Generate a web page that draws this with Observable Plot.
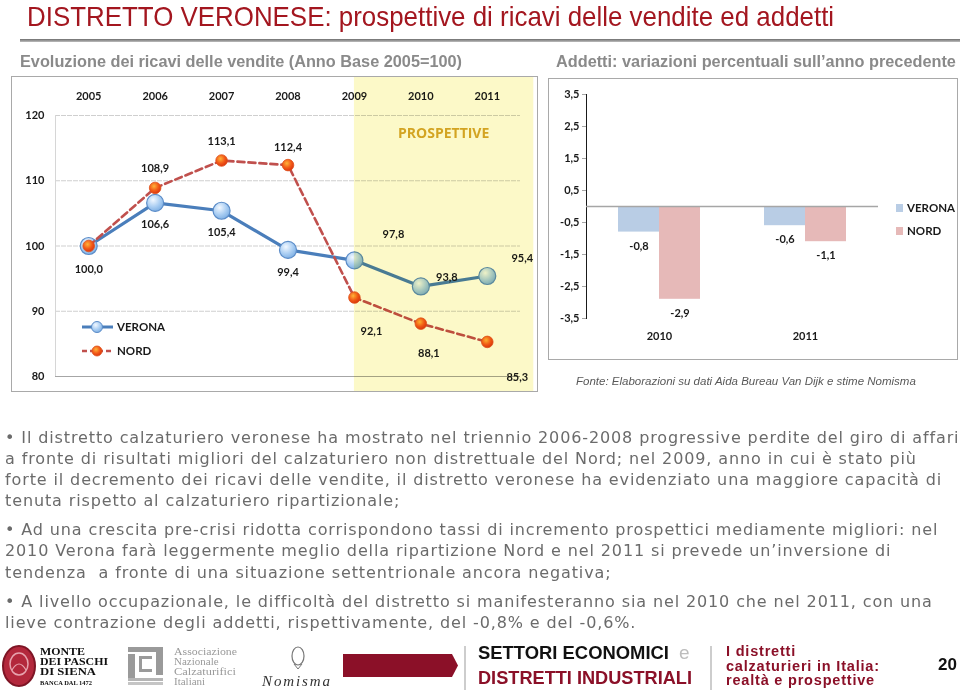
<!DOCTYPE html>
<html lang="it">
<head>
<meta charset="utf-8">
<script src="https://cdn.jsdelivr.net/npm/d3@7"></script>
<script src="https://cdn.jsdelivr.net/npm/@observablehq/plot@0.6"></script>
<style>
html,body{margin:0;padding:0;background:#fff}
#page{position:relative;width:960px;height:691px;overflow:hidden;font-family:"Liberation Sans",Arial,sans-serif}
.a{position:absolute;white-space:nowrap;line-height:1}
.mid{transform:translateY(-50%)}
#title{left:27px;top:17px;font-size:28px;color:#a3161f;transform:translateY(-50%) scaleX(0.925);transform-origin:0 50%}
#rule{position:absolute;left:20px;top:39px;width:940px;height:3px;background:linear-gradient(#6e6e6e,#bdbdbd)}
.sub{top:61px;font-size:16.3px;font-weight:bold;color:#8a8a8a}
.panel{position:absolute;border:1.5px solid #a9a9a9;box-sizing:border-box;pointer-events:none}
.bl{left:5px;font-family:"DejaVu Sans",Verdana,sans-serif;font-size:16px;letter-spacing:0.88px;color:#6b6b6b}
#src{left:576px;top:382px;font-size:11.5px;font-style:italic;color:#595959}
#prosp{left:398px;top:133px;font-family:"Open Sans",Lato,sans-serif;font-weight:bold;font-size:14px;color:#d3a422}
svg.leg text{font-family:Lato,"Open Sans",sans-serif;font-weight:bold;font-size:11.5px;fill:#1a1a1a}
</style>
</head>
<body>
<div id="page">
  <svg width="0" height="0" style="position:absolute">
    <defs>
      <radialGradient id="gBlue" cx="38%" cy="32%" r="70%">
        <stop offset="0" stop-color="#f2f8ff"/>
        <stop offset="0.6" stop-color="#a9cdf2"/>
        <stop offset="1" stop-color="#7fb0e4"/>
      </radialGradient>
      <radialGradient id="gRed" cx="40%" cy="35%" r="70%">
        <stop offset="0" stop-color="#ffb33a"/>
        <stop offset="0.55" stop-color="#f25a18"/>
        <stop offset="1" stop-color="#d8300e"/>
      </radialGradient>
    </defs>
  </svg>

  <div id="title" class="a">DISTRETTO VERONESE: prospettive di ricavi delle vendite ed addetti</div>
  <div id="rule"></div>
  <div class="a mid sub" style="left:20px">Evoluzione dei ricavi delle vendite (Anno Base 2005=100)</div>
  <div class="a mid sub" style="left:556px">Addetti: variazioni percentuali sull’anno precedente</div>

  <div id="leftChart" style="position:absolute;left:11px;top:76px"></div>
  <div class="panel" style="left:11px;top:76px;width:527px;height:316px"></div>
  <div id="prosp" class="a mid">PROSPETTIVE</div>
  <svg class="leg" style="position:absolute;left:78px;top:316px" width="100" height="46">
    <line x1="4" x2="35" y1="11" y2="11" stroke="#4a7ebb" stroke-width="3"/>
    <circle cx="19" cy="11" r="5.5" fill="url(#gBlue)" stroke="#5b8cc8" stroke-width="1"/>
    <text x="39" y="11" dy="0.35em">VERONA</text>
    <line x1="4" x2="35" y1="35" y2="35" stroke="#c0504d" stroke-width="2.4" stroke-dasharray="5,3"/>
    <circle cx="19" cy="35" r="5" fill="url(#gRed)" stroke="#e0501a" stroke-width="0.8"/>
    <text x="39" y="35" dy="0.35em">NORD</text>
  </svg>

  <div id="rightChart" style="position:absolute;left:548px;top:78px"></div>
  <div class="panel" style="left:548px;top:78px;width:410px;height:282px"></div>
  <svg class="leg" style="position:absolute;left:893px;top:198px" width="64" height="46">
    <rect x="3" y="6" width="7" height="8" fill="#b9cde5"/>
    <text x="14" y="10" dy="0.35em">VERONA</text>
    <rect x="3" y="29" width="7" height="8" fill="#e6b9b8"/>
    <text x="14" y="33" dy="0.35em">NORD</text>
  </svg>

  <div id="src" class="a mid">Fonte: Elaborazioni su dati Aida Bureau Van Dijk e stime Nomisma</div>

  <div class="a mid bl" style="top:438px">• Il distretto calzaturiero veronese ha mostrato nel triennio 2006-2008 progressive perdite del giro di affari</div>
  <div class="a mid bl" style="top:459px">a fronte di risultati migliori del calzaturiero non distrettuale del Nord; nel 2009, anno in cui è stato più</div>
  <div class="a mid bl" style="top:480px">forte il decremento dei ricavi delle vendite, il distretto veronese ha evidenziato una maggiore capacità di</div>
  <div class="a mid bl" style="top:501px">tenuta rispetto al calzaturiero ripartizionale;</div>
  <div class="a mid bl" style="top:530px">• Ad una crescita pre-crisi ridotta corrispondono tassi di incremento prospettici mediamente migliori: nel</div>
  <div class="a mid bl" style="top:551px">2010 Verona farà leggermente meglio della ripartizione Nord e nel 2011 si prevede un’inversione di</div>
  <div class="a mid bl" style="top:573px">tendenza&nbsp; a fronte di una situazione settentrionale ancora negativa;</div>
  <div class="a mid bl" style="top:602px">• A livello occupazionale, le difficoltà del distretto si manifesteranno sia nel 2010 che nel 2011, con una</div>
  <div class="a mid bl" style="top:623px">lieve contrazione degli addetti, rispettivamente, del -0,8% e del -0,6%.</div>

  <svg style="position:absolute;left:0;top:640px" width="960" height="51">
    <ellipse cx="19" cy="26" rx="16" ry="20" fill="#b3283c" stroke="#7e1525" stroke-width="2"/>
    <ellipse cx="19" cy="24" rx="9" ry="11" fill="none" stroke="#e7a3ae" stroke-width="1.5"/>
    <path d="M12 30 Q19 18 26 30" fill="none" stroke="#e7a3ae" stroke-width="1.2"/>
    <g font-family="'Liberation Serif','DejaVu Serif',serif" font-weight="bold" fill="#111">
      <text x="40" y="15" font-size="11" textLength="45" lengthAdjust="spacingAndGlyphs">MONTE</text>
      <text x="40" y="25" font-size="11" textLength="68" lengthAdjust="spacingAndGlyphs">DEI PASCHI</text>
      <text x="40" y="35" font-size="11" textLength="56" lengthAdjust="spacingAndGlyphs">DI SIENA</text>
      <text x="40" y="45" font-size="6" textLength="52" lengthAdjust="spacingAndGlyphs">BANCA DAL 1472</text>
    </g>
    <g fill="#9a9a9a">
      <rect x="128" y="7" width="35" height="5"/>
      <rect x="156" y="7" width="7" height="28"/>
      <rect x="128" y="14" width="7" height="24"/>
      <rect x="139" y="16" width="13" height="3"/>
      <rect x="139" y="16" width="3" height="16"/>
      <rect x="139" y="29" width="13" height="3"/>
      <rect x="128" y="38" width="35" height="3" fill="#b5b5b5"/>
      <rect x="128" y="42" width="35" height="3" fill="#c5c5c5"/>
    </g>
    <g font-family="'Liberation Serif','DejaVu Serif',serif" font-size="11" fill="#9a9a9a">
      <text x="174" y="15" textLength="63" lengthAdjust="spacingAndGlyphs">Associazione</text>
      <text x="174" y="25">Nazionale</text>
      <text x="174" y="35" textLength="62" lengthAdjust="spacingAndGlyphs">Calzaturifici</text>
      <text x="174" y="45">Italiani</text>
    </g>
    <ellipse cx="298" cy="16" rx="6" ry="9" fill="none" stroke="#777" stroke-width="1.2"/>
    <path d="M294 24 L298 29 L302 24" fill="none" stroke="#777"/>
    <text x="262" y="46" font-family="'Liberation Serif','DejaVu Serif',serif" font-style="italic" font-size="15" fill="#333" textLength="68">Nomisma</text>
    <polygon points="343,14 452,14 458,25.5 452,37 343,37" fill="#8b1028"/>
    <line x1="465" x2="465" y1="6" y2="50" stroke="#bdbdbd" stroke-width="1.5"/>
    <g font-family="'Liberation Sans',Arial,sans-serif" font-weight="bold" font-size="19">
      <text x="478" y="19" fill="#111" textLength="191" lengthAdjust="spacingAndGlyphs">SETTORI ECONOMICI</text>
      <text x="679" y="19" fill="#bdbdbd" font-weight="normal">e</text>
      <text x="478" y="44" fill="#8b1028" textLength="214" lengthAdjust="spacingAndGlyphs">DISTRETTI INDUSTRIALI</text>
    </g>
    <line x1="711" x2="711" y1="6" y2="50" stroke="#bdbdbd" stroke-width="1.5"/>
    <g font-family="'Liberation Sans',Arial,sans-serif" font-weight="bold" font-size="14.5" fill="#8b1028" letter-spacing="0.8">
      <text x="726" y="16">I distretti</text>
      <text x="726" y="30.5">calzaturieri in Italia:</text>
      <text x="726" y="45">realtà e prospettive</text>
    </g>
    <text x="938" y="30" font-family="'Liberation Sans',Arial,sans-serif" font-weight="bold" font-size="17" fill="#111">20</text>
  </svg>
</div>

<script>
// ---------- data ----------
const years = [2005, 2006, 2007, 2008, 2009, 2010, 2011];
const veronaIndex = [100.0, 106.6, 105.4, 99.4, 97.8, 93.8, 95.4];
const nordIndex = [100.0, 108.9, 113.1, 112.4, 92.1, 88.1, 85.3];
const indexTicks = [80, 90, 100, 110, 120];
const prospectiveFrom = 2009;

const empYears = ["2010", "2011"];
const empSeries = ["VERONA", "NORD"];
const veronaEmp = [-0.8, -0.6];
const nordEmp = [-2.9, -1.1];
const empTicks = [3.5, 2.5, 1.5, 0.5, -0.5, -1.5, -2.5, -3.5];

// ---------- helpers ----------
const itFmt = v => d3.format(".1f")(v).replace(".", ",").replace("\u2212", "-");
const font = "Lato, 'Open Sans', sans-serif";
const labelStyle = {fill: "#1a1a1a", fontWeight: "bold", fontSize: 11, fontFamily: font};

// ---------- left chart ----------
const verRows = years.map((year, i) => ({year, value: veronaIndex[i]}));
const norRows = years.map((year, i) => ({year, value: nordIndex[i]}));
const xDom = [years[0] - 0.5, years[years.length - 1] + 0.5];
// label placement relative to each point (dx, dy)
const verShift = [[0, 23], [0, 22], [0, 22], [0, 23], [39, -26], [26, -9], [35, -18]];
const norShift = [null, [0, -19], [0, -19], [0, -18], [17, 34], [8, 30], [30, 36]];

const verLabels = verRows.map((d, k) => Plot.text([d], {
  x: "year", y: "value", text: r => itFmt(r.value), dx: verShift[k][0], dy: verShift[k][1], ...labelStyle
}));
const norLabels = norRows.flatMap((d, k) => norShift[k] ? [Plot.text([d], {
  x: "year", y: "value", text: r => itFmt(r.value), dx: norShift[k][0], dy: norShift[k][1], ...labelStyle
})] : []);

const band = [{from: prospectiveFrom, to: years[years.length - 1] + 0.7, lo: 77, hi: 127}];

const left = Plot.plot({
  width: 527, height: 316,
  marginLeft: 44, marginRight: 18, marginTop: 39, marginBottom: 16,
  style: {background: "#fff", fontFamily: font, fontSize: "11px", fontWeight: "bold", color: "#1a1a1a", overflow: "hidden"},
  x: {domain: xDom, axis: "top", ticks: years, tickFormat: "d", tickSize: 0, tickPadding: 16, label: null},
  y: {domain: [80, 120], ticks: indexTicks, tickSize: 0, tickPadding: 11, label: null},
  marks: [
    Plot.ruleY(indexTicks.slice(1), {stroke: "#cfcfcf", strokeDasharray: "5,1"}),
    Plot.ruleY(indexTicks.slice(0, 1), {stroke: "#a6a6a6", strokeWidth: 1.2}),
    Plot.ruleX(xDom.slice(0, 1), {stroke: "#d6d6d6"}),
    Plot.line(verRows, {x: "year", y: "value", stroke: "#4a7ebb", strokeWidth: 3.2}),
    Plot.dot(verRows, {x: "year", y: "value", r: 8.5, fill: "url(#gBlue)", stroke: "#5b8cc8", strokeWidth: 1.2}),
    Plot.line(norRows, {x: "year", y: "value", stroke: "#c0504d", strokeWidth: 2.6, strokeDasharray: "7,4"}),
    Plot.dot(norRows, {x: "year", y: "value", r: 5.8, fill: "url(#gRed)", stroke: "#e0501a", strokeWidth: 0.8}),
    ...verLabels,
    ...norLabels,
    Plot.rect(band, {x1: "from", x2: "to", y1: "lo", y2: "hi", fill: "#fcf9c8", mixBlendMode: "multiply"})
  ]
});
document.getElementById("leftChart").appendChild(left);

// ---------- right chart ----------
const empRows = empYears.flatMap((year, i) => [
  {year, series: "VERONA", value: veronaEmp[i]},
  {year, series: "NORD", value: nordEmp[i]}
]);

const right = Plot.plot({
  width: 410, height: 282,
  marginLeft: 37, marginRight: 80, marginTop: 16, marginBottom: 42,
  style: {background: "#fff", fontFamily: font, fontSize: "11px", fontWeight: "bold", color: "#1a1a1a"},
  facet: {data: empRows, x: "year"},
  fx: {domain: empYears, padding: 0, axis: "bottom", tickSize: 0, tickPadding: 14, label: null},
  x: {domain: empSeries, paddingInner: 0, paddingOuter: 0.76, axis: null},
  y: {domain: [-3.5, 3.5], ticks: empTicks, tickFormat: itFmt, tickSize: 4, tickPadding: 3, line: true, label: null},
  color: {domain: empSeries, range: ["#b9cde5", "#e6b9b8"]},
  marks: [
    Plot.barY(empRows, {x: "series", y: "value", fill: "series"}),
    Plot.ruleY([0], {stroke: "#a6a6a6", strokeWidth: 1.3}),
    Plot.text(empRows, {x: "series", y: "value", text: d => itFmt(d.value), dy: 14, ...labelStyle})
  ]
});
right.querySelectorAll('g[aria-label^="y-axis"]').forEach(g => {
  g.querySelectorAll("path, line").forEach(el => el.setAttribute("stroke", "#a6a6a6"));
});
document.getElementById("rightChart").appendChild(right);
</script>
</body>
</html>
